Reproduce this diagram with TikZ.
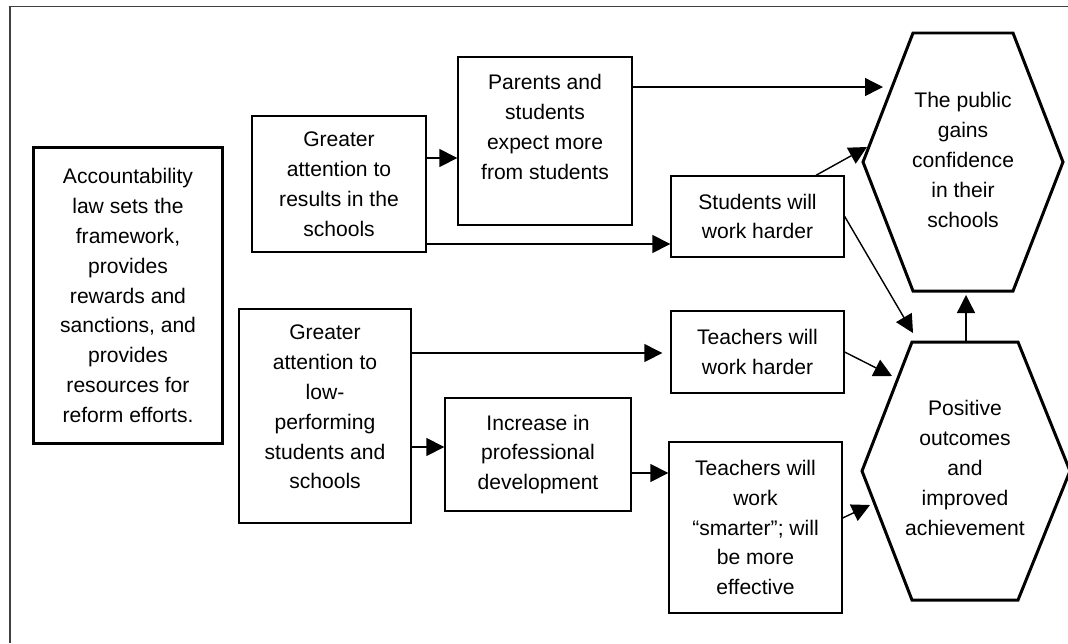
\documentclass[tikz,border=0pt]{standalone}
\usepackage{fontspec}
\setmainfont{Liberation Sans}
\usetikzlibrary{arrows.meta}

\tikzset{
  box/.style={draw, line width=0.8pt, align=center, inner sep=0pt,
    font=\fontsize{12}{17}\selectfont},
  txt/.style={align=center, inner sep=0pt, font=\fontsize{12}{17}\selectfont},
  hex/.style={line width=1.7pt, line join=miter},
  arr/.style={-{Triangle[length=0.36cm,width=0.36cm]}, line width=0.8pt},
}

\begin{document}
\begin{tikzpicture}[x=0.02cm, y=-0.02cm]
\useasboundingbox (0,0) rectangle (1068,643);

% Frame
\draw[line width=0.8pt, black!75] (10,643) -- (10,6.5) -- (1068,6.5);

% Boxes
\node[box, line width=1.7pt, minimum width=3.8cm, minimum height=5.94cm] (acc) at (128,295.5)
  {Accountability\\ law sets the\\ framework,\\ provides\\ rewards and\\ sanctions, and\\ provides\\ resources for\\ reform efforts.};
\node[box, minimum width=3.48cm, minimum height=2.72cm] (res) at (339,184)
  {Greater\\ attention to\\ results in the\\ schools};
\node[box, minimum width=3.48cm, minimum height=3.36cm] (par) at (545,141) {};
\node[txt] (partext) at (545,127) {Parents and\\ students\\ expect more\\ from students};
\node[box, minimum width=3.46cm, minimum height=1.62cm] (stu) at (757.5,216.5)
  {Students will\\ work harder};
\node[box, minimum width=3.44cm, minimum height=4.28cm] (low) at (325,416) {};
\node[txt] (lowtext) at (325,407) {Greater\\ attention to\\ low-\\ performing\\ students and\\ schools};
\node[box, minimum width=3.72cm, minimum height=2.26cm] (inc) at (538,454.5)
  {Increase in\\ professional\\ development};
\node[box, minimum width=3.46cm, minimum height=1.64cm] (tw) at (757.5,352)
  {Teachers will\\ work harder};
\node[box, minimum width=3.46cm, minimum height=3.42cm] (ts) at (755.5,527.5)
  {Teachers will\\ work\\ ``smarter''; will\\ be more\\ effective};

% Hexagons
\draw[hex] (913,33) -- (1013,33) -- (1063,162) -- (1013,291) -- (913,291) -- (863,162) -- cycle;
\node[txt] (pub) at (963,160) {The public\\ gains\\ confidence\\ in their\\ schools};
\draw[hex] (912,342) -- (1018,342) -- (1070,471) -- (1018,600) -- (912,600) -- (862,471) -- cycle;
\node[txt] (pos) at (965,468) {Positive\\ outcomes\\ and\\ improved\\ achievement};

\coordinate (pubin) at (883,87);
\coordinate (pubsw) at (867,147);
\coordinate (pubS) at (966,295);
\coordinate (posN) at (966,342);
\coordinate (posnw) at (913,333);
\coordinate (posw) at (892,376);
\coordinate (possw) at (870,505);

% Arrows
\draw[arr] ([yshift=0.52cm]res.east) coordinate (a1) -- (a1 -| par.west);
\draw[arr] ([yshift=-1.2cm]res.east) coordinate (a2) -- (a2 -| stu.west);
\draw[arr] ([yshift=1.08cm]par.east) coordinate (a3) -- (a3 -| pubin);
\draw[arr] ([xshift=1.17cm]stu.north) -- (pubsw);
\draw[arr] (stu.east) -- (posnw);
\draw[arr] ([yshift=1.26cm]low.east) coordinate (a4) -- ([xshift=-0.16cm]a4 -| tw.west);
\draw[arr] ([yshift=-0.62cm]low.east) coordinate (a5) -- (a5 -| inc.west);
\draw[arr] ([yshift=-0.37cm]inc.east) coordinate (a6) -- (a6 -| ts.west);
\draw[arr] (tw.east) -- (posw);
\draw[arr] ([yshift=0.19cm]ts.east) -- (possw);
\draw[arr] (posN) -- (pubS);
\end{tikzpicture}
\end{document}
